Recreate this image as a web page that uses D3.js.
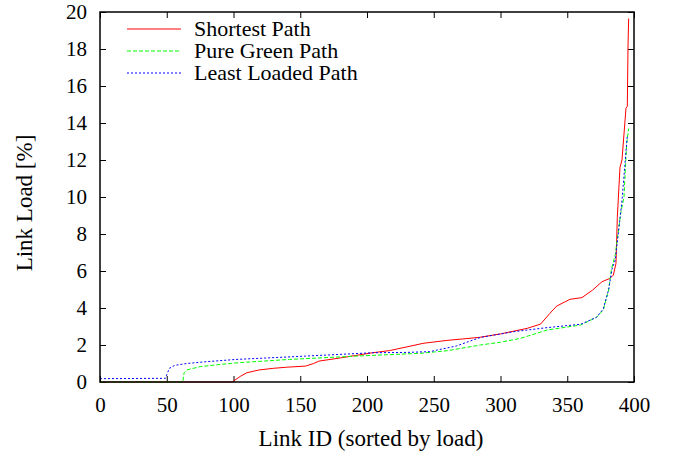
<!DOCTYPE html>
<html><head><meta charset="utf-8">
<script src="https://cdn.jsdelivr.net/npm/d3@7"></script>
<style>body{margin:0;background:#fff}svg{display:block}</style>
</head><body>
<script>
const xTicks = [0, 50, 100, 150, 200, 250, 300, 350, 400];
const yTicks = [0, 2, 4, 6, 8, 10, 12, 14, 16, 18, 20];
const seriesNames = ["Shortest Path", "Pure Green Path", "Least Loaded Path"];

const shortestX = [0, 99, 100, 105, 110, 119, 130, 140, 154, 160, 164, 180, 204, 217, 230, 242, 260, 284, 300, 320, 330, 337, 342, 352, 361, 369, 376, 382, 384.5, 386.5, 387.5, 389.5, 391, 394, 395, 395.5, 396];
const shortestY = [0, 0, 0.05, 0.3, 0.5, 0.65, 0.74, 0.8, 0.86, 1.0, 1.13, 1.3, 1.58, 1.7, 1.9, 2.09, 2.25, 2.41, 2.6, 2.9, 3.13, 3.71, 4.1, 4.47, 4.56, 4.97, 5.42, 5.6, 5.78, 6.4, 8.9, 11.6, 12.0, 14.8, 14.9, 18.1, 19.65];

const greenX = [0, 62, 63, 65, 75, 90, 105, 142, 192, 217, 240, 260, 285, 300, 315, 335, 360, 372, 377, 381, 383, 386, 390, 392.5, 394.5, 396];
const greenY = [0, 0, 0.5, 0.65, 0.83, 0.95, 1.05, 1.22, 1.4, 1.48, 1.55, 1.69, 2.0, 2.15, 2.36, 2.81, 3.08, 3.5, 3.9, 4.97, 6.05, 6.9, 9.1, 10.0, 12.9, 13.7];

const leastX = [0, 49, 50, 52, 56, 65, 80, 102, 154, 204, 230, 247, 267, 285, 310, 335, 360, 372, 377, 381, 383.5, 386, 391, 394.5, 395];
const leastY = [0.18, 0.2, 0.4, 0.74, 0.9, 1.0, 1.1, 1.22, 1.4, 1.58, 1.6, 1.64, 1.95, 2.41, 2.72, 2.94, 3.12, 3.5, 3.95, 5.0, 6.1, 6.6, 9.8, 12.9, 13.3];

const W = 673, H = 454;
const L = 100, R = 634, T = 12, B = 382;
const FONT = "'Liberation Serif', 'Times New Roman', serif";
const svg = d3.select("body").append("svg").attr("width", W).attr("height", H)
  .style("font-family", FONT);
const x = d3.scaleLinear().domain([0, 400]).range([L, R]);
const y = d3.scaleLinear().domain([0, 20]).range([B, T]);

const tickFs = 21, legendFs = 22, titleFs = 23;
function styleText(g) {
  g.attr("font-family", null).attr("font-size", null);
  g.selectAll("text").style("font-family", FONT).style("font-size", tickFs + "px").attr("fill", "#000");
}
svg.append("g").attr("transform", `translate(0,${B})`)
  .call(d3.axisBottom(x).tickValues(xTicks).tickSize(-6).tickPadding(15))
  .call(g => { g.select(".domain").remove(); styleText(g); });
svg.append("g").attr("transform", `translate(0,${T})`)
  .call(d3.axisTop(x).tickValues(xTicks).tickSize(-6).tickFormat(""))
  .call(g => g.select(".domain").remove());
svg.append("g").attr("transform", `translate(${L},0)`)
  .call(d3.axisLeft(y).tickValues(yTicks).tickSize(-6).tickPadding(13))
  .call(g => { g.select(".domain").remove(); styleText(g); });
svg.append("g").attr("transform", `translate(${R},0)`)
  .call(d3.axisRight(y).tickValues(yTicks).tickSize(-6).tickFormat(""))
  .call(g => g.select(".domain").remove());
svg.selectAll(".tick line").attr("stroke", "#000");

const line = d3.line().x(d => x(d[0])).y(d => y(d[1]));
const series = [
  {name: seriesNames[0], xs: shortestX, ys: shortestY, color: "#ff0000", dash: null},
  {name: seriesNames[1], xs: greenX, ys: greenY, color: "#00ff00", dash: "4,2"},
  {name: seriesNames[2], xs: leastX, ys: leastY, color: "#0000ff", dash: "2,2"}
];
series.forEach(s => {
  const pts = s.xs.map((v, i) => [v, s.ys[i]]);
  svg.append("path").datum(pts).attr("d", line).attr("fill", "none")
    .attr("stroke", s.color).attr("stroke-width", 1).attr("stroke-dasharray", s.dash);
});

svg.append("rect").attr("x", L).attr("y", T).attr("width", R - L).attr("height", B - T)
  .attr("fill", "none").attr("stroke", "#000").attr("stroke-width", 1.5);

series.forEach((s, i) => {
  const ly = 29 + i * 22;
  svg.append("line").attr("x1", 127).attr("x2", 181).attr("y1", ly).attr("y2", ly)
    .attr("stroke", s.color).attr("stroke-width", 1).attr("stroke-dasharray", s.dash);
  svg.append("text").attr("x", 194).attr("y", ly + 7)
    .style("font-family", FONT).style("font-size", legendFs + "px").text(s.name);
});

svg.append("text").attr("x", 371).attr("y", 446).attr("text-anchor", "middle")
  .style("font-family", FONT).style("font-size", titleFs + "px").text("Link ID (sorted by load)");
svg.append("text").attr("transform", `translate(32,203) rotate(-90)`)
  .attr("text-anchor", "middle").style("font-family", FONT).style("font-size", titleFs + "px").text("Link Load [%]");
</script>
</body></html>
